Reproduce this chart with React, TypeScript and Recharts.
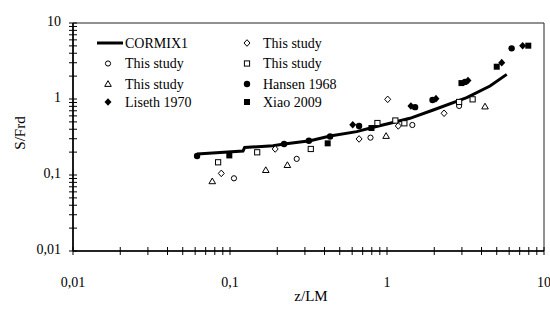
import React from 'react';
import { ScatterChart, Scatter, XAxis, YAxis, ReferenceArea } from 'recharts';

// log axis ticks (major + minor), labels only on the decades
const AXIS_TICKS = [
  0.01, 0.02, 0.03, 0.04, 0.05, 0.06, 0.07, 0.08, 0.09,
  0.1, 0.2, 0.3, 0.4, 0.5, 0.6, 0.7, 0.8, 0.9,
  1, 2, 3, 4, 5, 6, 7, 8, 9, 10,
];
const MAJOR_TICKS = [0.01, 0.1, 1, 10];
const MAJOR_LABELS = ['0,01', '0,1', '1', '10'];

// CORMIX1 prediction curve
const cormix1 = [
  { x: 0.0617, y: 0.189 },
  { x: 0.121, y: 0.207 },
  { x: 0.124, y: 0.23 },
  { x: 0.188, y: 0.243 },
  { x: 0.221, y: 0.256 },
  { x: 0.324, y: 0.282 },
  { x: 0.434, y: 0.326 },
  { x: 0.641, y: 0.372 },
  { x: 0.818, y: 0.425 },
  { x: 1.045, y: 0.479 },
  { x: 1.4, y: 0.557 },
  { x: 1.97, y: 0.716 },
  { x: 3.22, y: 1.04 },
  { x: 4.53, y: 1.48 },
  { x: 5.79, y: 2.11 },
];

// This study (open symbols)
const studyCircle = [
  { x: 0.106, y: 0.0905 },
  { x: 0.266, y: 0.163 },
  { x: 0.785, y: 0.31 },
  { x: 1.45, y: 0.455 },
  { x: 2.88, y: 0.81 },
];
const studyTriangle = [
  { x: 0.0771, y: 0.0826 },
  { x: 0.169, y: 0.116 },
  { x: 0.232, y: 0.135 },
  { x: 0.987, y: 0.326 },
  { x: 4.21, y: 0.796 },
];
const studyDiamond = [
  { x: 0.088, y: 0.105 },
  { x: 0.194, y: 0.22 },
  { x: 0.664, y: 0.298 },
  { x: 1.01, y: 0.99 },
  { x: 1.18, y: 0.442 },
  { x: 2.31, y: 0.649 },
];
const studySquare = [
  { x: 0.084, y: 0.147 },
  { x: 0.149, y: 0.199 },
  { x: 0.327, y: 0.22 },
  { x: 0.869, y: 0.483 },
  { x: 1.13, y: 0.521 },
  { x: 1.29, y: 0.479 },
  { x: 2.88, y: 0.914 },
  { x: 3.51, y: 0.99 },
];

// literature data (filled symbols)
const liseth1970 = [
  { x: 0.605, y: 0.458 },
  { x: 1.42, y: 0.81 },
  { x: 2.05, y: 1.01 },
  { x: 3.28, y: 1.75 },
  { x: 5.38, y: 3.01 },
  { x: 7.31, y: 5.03 },
];
const hansen1968 = [
  { x: 0.0617, y: 0.178 },
  { x: 0.221, y: 0.256 },
  { x: 0.318, y: 0.282 },
  { x: 0.434, y: 0.321 },
  { x: 0.664, y: 0.442 },
  { x: 1.51, y: 0.781 },
  { x: 1.95, y: 0.97 },
  { x: 3.14, y: 1.68 },
  { x: 6.22, y: 4.64 },
];
const xiao2009 = [
  { x: 0.099, y: 0.181 },
  { x: 0.419, y: 0.261 },
  { x: 0.796, y: 0.415 },
  { x: 2.98, y: 1.62 },
  { x: 5.0, y: 2.66 },
  { x: 7.94, y: 5.03 },
];

const TEXT_STYLE = { fontFamily: 'Liberation Serif, Times New Roman, serif', fill: '#000' };

function Marker({ kind, cx, cy }: { kind: string; cx: number; cy: number }) {
  switch (kind) {
    case 'circle':
      return <circle cx={cx} cy={cy} r={2.6} fill="#fff" stroke="#000" strokeWidth={1} />;
    case 'triangle':
      return (
        <polygon
          points={`${cx},${cy - 3.3} ${cx + 3.3},${cy + 2.4} ${cx - 3.3},${cy + 2.4}`}
          fill="#fff" stroke="#000" strokeWidth={1}
        />
      );
    case 'diamond':
      return (
        <polygon
          points={`${cx},${cy - 3.3} ${cx + 3},${cy} ${cx},${cy + 3.3} ${cx - 3},${cy}`}
          fill="#fff" stroke="#000" strokeWidth={1}
        />
      );
    case 'square':
      return <rect x={cx - 2.6} y={cy - 2.6} width={5.2} height={5.2} fill="#fff" stroke="#000" strokeWidth={1} />;
    case 'dot':
      return <circle cx={cx} cy={cy} r={3.2} fill="#000" />;
    case 'fdiamond':
      return <polygon points={`${cx},${cy - 3.8} ${cx + 3.5},${cy} ${cx},${cy + 3.8} ${cx - 3.5},${cy}`} fill="#000" />;
    case 'fsquare':
      return <rect x={cx - 3} y={cy - 3} width={6} height={6} fill="#000" />;
    default:
      return <g />;
  }
}

const shapeOf = (kind: string) => (p: any) => <Marker kind={kind} cx={p.cx} cy={p.cy} />;

function XTick(props: any) {
  const { x, y, payload } = props;
  const i = MAJOR_TICKS.indexOf(payload.value);
  return (
    <g>
      <line x1={x} x2={x} y1={y - 4} y2={y + 4} stroke="#000" strokeWidth={1} />
      {i >= 0 && (
        <text x={x} y={y + 31} textAnchor="middle" dominantBaseline="central" fontSize={14} style={TEXT_STYLE}>
          {MAJOR_LABELS[i]}
        </text>
      )}
    </g>
  );
}

function YTick(props: any) {
  const { x, y, payload } = props;
  const i = MAJOR_TICKS.indexOf(payload.value);
  return (
    <g>
      <line x1={x - 4} x2={x + 4} y1={y} y2={y} stroke="#000" strokeWidth={1} />
      {i >= 0 && (
        <text x={x - 12} y={y - 2} textAnchor="end" dominantBaseline="central" fontSize={14} style={TEXT_STYLE}>
          {MAJOR_LABELS[i]}
        </text>
      )}
    </g>
  );
}

const LEGEND_LEFT = [
  { kind: 'line', label: 'CORMIX1' },
  { kind: 'circle', label: 'This study' },
  { kind: 'triangle', label: 'This study' },
  { kind: 'fdiamond', label: 'Liseth 1970' },
];
const LEGEND_RIGHT = [
  { kind: 'diamond', label: 'This study' },
  { kind: 'square', label: 'This study' },
  { kind: 'dot', label: 'Hansen 1968' },
  { kind: 'fsquare', label: 'Xiao 2009' },
];
const LEGEND_ROWS = [43, 63.5, 84, 102];

export default function App() {
  return (
    <div style={{ position: 'absolute', left: 0, top: 0, width: 550, height: 311, background: '#fff' }}>
      <ScatterChart width={550} height={311} margin={{ top: 23, right: 6, bottom: 0, left: 0 }}>
        <XAxis
          type="number" dataKey="x" scale="log" domain={[0.01, 10]} allowDataOverflow
          ticks={AXIS_TICKS} interval={0} tick={<XTick />} tickLine={false}
          tickSize={0} tickMargin={0} height={60}
          axisLine={{ stroke: '#000', strokeWidth: 1.6 }}
        />
        <YAxis
          type="number" dataKey="y" scale="log" domain={[0.01, 10]} allowDataOverflow
          ticks={AXIS_TICKS} interval={0} tick={<YTick />} tickLine={false}
          tickSize={0} tickMargin={0} width={73}
          axisLine={{ stroke: '#000', strokeWidth: 1.6 }}
        />
        <ReferenceArea x1={0.01} x2={10} y1={0.01} y2={10} fill="none" stroke="#222" strokeWidth={1} />
        <Scatter data={cormix1} line={{ stroke: '#000', strokeWidth: 3 }} shape={() => <g />} isAnimationActive={false} />
        <Scatter data={studyCircle} shape={shapeOf('circle')} isAnimationActive={false} />
        <Scatter data={studyTriangle} shape={shapeOf('triangle')} isAnimationActive={false} />
        <Scatter data={studyDiamond} shape={shapeOf('diamond')} isAnimationActive={false} />
        <Scatter data={studySquare} shape={shapeOf('square')} isAnimationActive={false} />
        <Scatter data={hansen1968} shape={shapeOf('dot')} isAnimationActive={false} />
        <Scatter data={liseth1970} shape={shapeOf('fdiamond')} isAnimationActive={false} />
        <Scatter data={xiao2009} shape={shapeOf('fsquare')} isAnimationActive={false} />
      </ScatterChart>
      <svg width={550} height={311} style={{ position: 'absolute', left: 0, top: 0, pointerEvents: 'none' }}>
        {LEGEND_LEFT.map((e, i) => (
          <g key={'l' + i}>
            {e.kind === 'line'
              ? <line x1={97} x2={123} y1={LEGEND_ROWS[i]} y2={LEGEND_ROWS[i]} stroke="#000" strokeWidth={3} />
              : <Marker kind={e.kind} cx={108} cy={LEGEND_ROWS[i]} />}
            <text x={125} y={LEGEND_ROWS[i]} dominantBaseline="central" fontSize={14} style={TEXT_STYLE}>{e.label}</text>
          </g>
        ))}
        {LEGEND_RIGHT.map((e, i) => (
          <g key={'r' + i}>
            <Marker kind={e.kind} cx={247} cy={LEGEND_ROWS[i]} />
            <text x={263} y={LEGEND_ROWS[i]} dominantBaseline="central" fontSize={14} style={TEXT_STYLE}>{e.label}</text>
          </g>
        ))}
        <text x={20} y={133} transform="rotate(-90 20 133)" textAnchor="middle" dominantBaseline="central"
          fontSize={15} style={TEXT_STYLE}>S/Frd</text>
        <text x={311} y={296} textAnchor="middle" dominantBaseline="central" fontSize={15} style={TEXT_STYLE}>z/LM</text>
      </svg>
    </div>
  );
}
